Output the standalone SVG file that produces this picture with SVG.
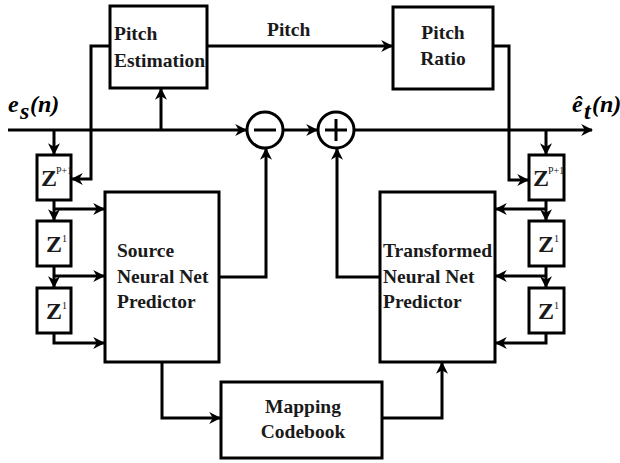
<svg xmlns="http://www.w3.org/2000/svg" width="620" height="463" viewBox="0 0 620 463" font-family="'Liberation Serif', 'DejaVu Serif', serif">
<style>
.box{fill:#fff;stroke:#000;stroke-width:3}
.ln{fill:none;stroke:#000;stroke-width:3}
text{font-family:'Liberation Serif','DejaVu Serif',serif}
.t{font-weight:bold;font-size:19.5px;fill:#1a1a1a}
.z{font-weight:bold;font-size:24px;fill:#1a1a1a}
.sup{font-size:10px;fill:#1a1a1a}
.v{font-weight:bold;font-style:italic;font-size:24px;fill:#000}
</style>
<defs>
<marker id="ah" viewBox="0 0 10 10" refX="9" refY="5" markerWidth="4" markerHeight="4" orient="auto" markerUnits="strokeWidth">
<path d="M0,0 L10,5 L0,10 L3,5 z" fill="#000"/>
</marker>
</defs>
<g id="connectors">
<line class="ln" x1="8" y1="130" x2="246" y2="130" marker-end="url(#ah)"/>
<line class="ln" x1="283" y1="130" x2="317" y2="130" marker-end="url(#ah)"/>
<line class="ln" x1="354" y1="130" x2="592" y2="130" marker-end="url(#ah)"/>
<line class="ln" x1="161" y1="130" x2="161" y2="89" marker-end="url(#ah)"/>
<polyline class="ln" points="110,46 91,46 91,179 72,179" marker-end="url(#ah)"/>
<line class="ln" x1="207" y1="46" x2="392" y2="46" marker-end="url(#ah)"/>
<polyline class="ln" points="493,46 509,46 509,180 528,180" marker-end="url(#ah)"/>
<line class="ln" x1="54" y1="130" x2="54" y2="154" marker-end="url(#ah)"/>
<line class="ln" x1="54" y1="200" x2="54" y2="220" marker-end="url(#ah)"/>
<line class="ln" x1="54" y1="266" x2="54" y2="287" marker-end="url(#ah)"/>
<line class="ln" x1="54" y1="209" x2="104" y2="209" marker-end="url(#ah)"/>
<line class="ln" x1="54" y1="276" x2="104" y2="276" marker-end="url(#ah)"/>
<polyline class="ln" points="54,333 54,343 104,343" marker-end="url(#ah)"/>
<line class="ln" x1="546" y1="130" x2="546" y2="154" marker-end="url(#ah)"/>
<line class="ln" x1="546" y1="200" x2="546" y2="220" marker-end="url(#ah)"/>
<line class="ln" x1="546" y1="266" x2="546" y2="287" marker-end="url(#ah)"/>
<line class="ln" x1="546" y1="209" x2="496" y2="209" marker-end="url(#ah)"/>
<line class="ln" x1="546" y1="276" x2="496" y2="276" marker-end="url(#ah)"/>
<polyline class="ln" points="546,333 546,343 496,343" marker-end="url(#ah)"/>
<polyline class="ln" points="219,277 266,277 266,149" marker-end="url(#ah)"/>
<polyline class="ln" points="380,277 337,277 337,149" marker-end="url(#ah)"/>
<polyline class="ln" points="162,362 162,418 220,418" marker-end="url(#ah)"/>
<polyline class="ln" points="382,418 442,418 442,363" marker-end="url(#ah)"/>
</g>
<g id="pitch-estimation">
<rect class="box" x="110" y="6" width="97" height="82"/>
<text class="t" x="114" y="40">Pitch</text>
<text class="t" x="114" y="67">Estimation</text>
</g>
<text class="t" x="267" y="36">Pitch</text>
<g id="pitch-ratio">
<rect class="box" x="393" y="7" width="100" height="82"/>
<text class="t" x="443" y="39" text-anchor="middle">Pitch</text>
<text class="t" x="443" y="65" text-anchor="middle">Ratio</text>
</g>
<g id="minus">
<circle class="box" cx="265" cy="130" r="18"/>
<line class="ln" x1="254" y1="130" x2="276" y2="130"/>
</g>
<g id="plus">
<circle class="box" cx="336" cy="130" r="18"/>
<line class="ln" x1="325" y1="130" x2="347" y2="130"/>
<line class="ln" x1="336" y1="119" x2="336" y2="141"/>
</g>
<g id="input-label">
<text class="v" x="8" y="112">e</text>
<text class="v" x="20" y="119" font-size="18">s</text>
<text class="v" x="30" y="112">(n)</text>
</g>
<g id="output-label">
<text class="v" x="572" y="112">ê</text>
<text class="v" x="584" y="119" font-size="16">t</text>
<text class="v" x="592" y="112">(n)</text>
</g>
<g id="zs1">
<rect class="box" x="37" y="155" width="34" height="45"/>
<text class="z" x="41" y="186">Z</text>
<text class="sup" x="56" y="174">P+1</text>
</g>
<g id="zs2">
<rect class="box" x="37" y="221" width="34" height="45"/>
<text class="z" x="46" y="252">Z</text>
<text class="sup" x="62" y="242">1</text>
</g>
<g id="zs3">
<rect class="box" x="37" y="288" width="34" height="45"/>
<text class="z" x="46" y="319">Z</text>
<text class="sup" x="62" y="309">1</text>
</g>
<g id="zt1">
<rect class="box" x="529" y="155" width="35" height="45"/>
<text class="z" x="533" y="186">Z</text>
<text class="sup" x="548" y="174">P+1</text>
</g>
<g id="zt2">
<rect class="box" x="529" y="221" width="35" height="45"/>
<text class="z" x="538" y="252">Z</text>
<text class="sup" x="554" y="242">1</text>
</g>
<g id="zt3">
<rect class="box" x="529" y="288" width="35" height="45"/>
<text class="z" x="538" y="319">Z</text>
<text class="sup" x="554" y="309">1</text>
</g>
<g id="source-nn">
<rect class="box" x="105" y="192" width="114" height="170"/>
<text class="t" x="117" y="257">Source</text>
<text class="t" x="117" y="283">Neural Net</text>
<text class="t" x="117" y="308">Predictor</text>
</g>
<g id="transformed-nn">
<rect class="box" x="380" y="192" width="115" height="170"/>
<text class="t" x="383" y="257">Transformed</text>
<text class="t" x="383" y="283">Neural Net</text>
<text class="t" x="383" y="308">Predictor</text>
</g>
<g id="mapping-codebook">
<rect class="box" x="221" y="382" width="161" height="76"/>
<text class="t" x="303" y="413" text-anchor="middle">Mapping</text>
<text class="t" x="303" y="438" text-anchor="middle">Codebook</text>
</g>
</svg>
